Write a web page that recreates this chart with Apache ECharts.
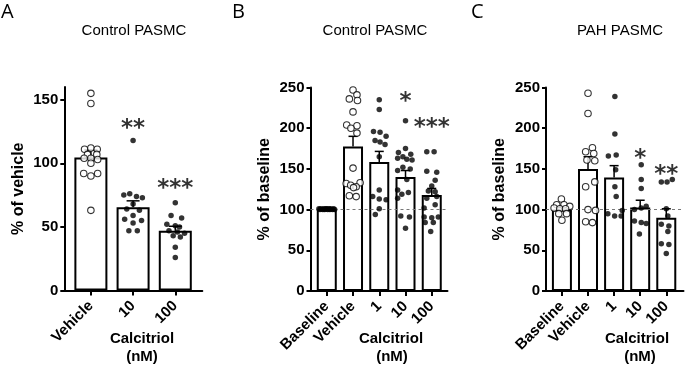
<!DOCTYPE html>
<html>
<head>
<meta charset="utf-8">
<script src="https://cdn.jsdelivr.net/npm/echarts@6.0.0/dist/echarts.min.js"></script>
<style>
  html, body { margin: 0; padding: 0; background: #fff; }
  #main { width: 685px; height: 367px; }
</style>
</head>
<body>
<div id="main"></div>
<script>
// ---- panel A: Control PASMC, % of vehicle ----
var aCats = ['Vehicle', '10', '100'];
var aMean = [104.5, 65.5, 47];
var aSem = [6, 5, 3.5];
// points are [value, jitter in category units]
var aVehicle = [[155, 0], [147, 0], [111, -0.15], [112, 0], [111, 0.15], [107, -0.08], [107, 0.14], [104, -0.16], [104, 0], [103, 0.16], [100, 0], [92, -0.17], [90, 0], [92, 0.16], [63, 0]];
var a10 = [[118, 0], [76, -0.08], [75, -0.22], [74, 0.08], [73, 0.22], [68, 0], [64, -0.15], [63, 0.15], [59, 0], [56, -0.2], [55, 0.2], [53, 0], [47, -0.1], [47, 0.1]];
var a100 = [[69, 0], [59, -0.1], [57, 0.15], [52, -0.2], [51, 0], [50, 0.1], [47, -0.15], [46, 0.05], [45, 0.22], [43, -0.05], [42, 0.12], [34, 0], [26, 0]];
var aStars = ['', '**', '***'];
var aStarY = [0, 131.7, 84.5];

// ---- panel B: Control PASMC, % of baseline ----
var bCats = ['Baseline', 'Vehicle', '1', '10', '100'];
var bMean = [100, 177.5, 158.5, 140, 118];
var bSem = [0, 12.5, 13, 8, 8];
var bBaseline = [[101, -0.3], [100, -0.26], [101, -0.22], [100, -0.15], [101, -0.12], [100, -0.08], [101, -0.04], [101, 0], [100, 0.04], [101, 0.08], [100, 0.12], [101, 0.15], [100, 0.22], [101, 0.26], [100, 0.3]];
var bVehicle = [[247, 0], [241, 0.15], [236, -0.14], [234, 0.17], [220, 0], [204, -0.24], [203, 0.15], [200, -0.08], [194, 0.15], [151, 0], [133, 0.27], [132, -0.26], [130, -0.09], [128, 0.12], [127, 0.02], [117, -0.14], [116, 0.12]];
var b1 = [[235, 0], [223, 0], [196, -0.22], [195, 0.03], [190, 0.26], [185, -0.16], [183, 0.03], [180, 0.22], [165, 0], [124, 0], [116, -0.25], [113, 0], [112, 0.26], [101, 0], [94, -0.15]];
var b10 = [[209, 0], [175, 0], [170, -0.27], [168, 0.2], [165, -0.1], [163, -0.3], [162, 0.05], [161, 0.25], [152, -0.1], [150, 0.18], [148, -0.3], [137, 0.05], [124, -0.3], [121, 0.11], [119, -0.14], [114, -0.3], [92, -0.18], [91, 0.15], [77, 0]];
var b100 = [[171, -0.19], [171, 0.09], [147, -0.19], [146, 0.19], [136, 0.13], [129, 0], [123, -0.13], [122, 0.13], [116, 0.19], [114, -0.19], [106, 0.13], [102, -0.29], [91, -0.29], [90, 0], [91, 0.25], [84, -0.25], [84, 0.06], [73, -0.04]];
var bStars = ['', '', '', '*', '***'];
var bStarY = [0, 0, 0, 239.6, 207];

// ---- panel C: PAH PASMC, % of baseline ----
var cCats = ['Baseline', 'Vehicle', '1', '10', '100'];
var cMean = [100, 150, 139.5, 102.5, 90];
var cSem = [2.5, 15, 14.5, 9, 11];
var cBaseline = [[113, -0.02], [106, -0.2], [106, 0.08], [104, 0.3], [102, -0.3], [101, -0.08], [101, 0.14], [95, -0.12], [95, 0.18], [87, 0]];
var cVehicle = [[243, 0], [218, 0], [176, 0.17], [171, -0.09], [169, 0.22], [161, -0.04], [160, 0.26], [134, 0.26], [128, -0.09], [100, 0], [99, 0.29], [85, -0.09], [84, 0.17]];
var c1 = [[239, 0.03], [193, 0.03], [166, -0.22], [167, 0.08], [149, 0.06], [128, 0.03], [116, 0.08], [99, 0.31], [95, -0.24], [92, 0.02], [92, 0.27]];
var c10 = [[155, 0.04], [137, 0.04], [126, 0.04], [104, 0.23], [102, 0.04], [100, -0.22], [86, -0.22], [84, 0.04], [83, 0.23], [70, -0.03]];
var c100 = [[137, 0.23], [134, -0.19], [134, 0.03], [101, 0], [92, 0.06], [82, -0.19], [80, 0.1], [73, 0.06], [58, -0.19], [57, 0.1], [46, 0]];
var cStars = ['', '', '', '*', '**'];
var cStarY = [0, 0, 0, 168.9, 150.4];

var FONT = '"Liberation Sans", Arial, sans-serif';

var panels = [
    { cats: aCats, mean: aMean, sem: aSem, groups: [aVehicle, a10, a100], hollow: [true, false, false],
      stars: aStars, starY: aStarY, ymax: 160, yticks: [0, 50, 100, 150], yname: '% of vehicle',
      grid: { left: 64.3, top: 87, width: 138, height: 203.5 }, xmin: -0.63, xmax: 2.64,
      barW: 33, capW: 6.5, refLine: false },
    { cats: bCats, mean: bMean, sem: bSem, groups: [bBaseline, bVehicle, b1, b10, b100], hollow: [false, true, false, false, false],
      stars: bStars, starY: bStarY, ymax: 250, yticks: [0, 50, 100, 150, 200, 250], yname: '% of baseline',
      grid: { left: 310.5, top: 87.5, width: 137, height: 203.5 }, xmin: -0.62, xmax: 4.6,
      barW: 20, capW: 4.5, refLine: true },
    { cats: cCats, mean: cMean, sem: cSem, groups: [cBaseline, cVehicle, c1, c10, c100], hollow: [true, true, false, false, false],
      stars: cStars, starY: cStarY, ymax: 250, yticks: [0, 50, 100, 150, 200, 250], yname: '% of baseline',
      grid: { left: 546, top: 87.5, width: 137.5, height: 203.5 }, xmin: -0.61, xmax: 4.66,
      barW: 20, capW: 4.5, refLine: true }
];

var grids = [], xAxes = [], yAxes = [], series = [];

panels.forEach(function (p, gi) {
    grids.push(p.grid);

    var idx = p.cats.map(function (c, i) { return i; });
    xAxes.push({
        gridIndex: gi,
        type: 'value',
        min: p.xmin,
        max: p.xmax,
        splitLine: { show: false },
        axisLine: { onZero: false, lineStyle: { color: '#000', width: 2 } },
        axisTick: { customValues: idx, length: 5, lineStyle: { color: '#000', width: 2 } },
        axisLabel: {
            customValues: idx,
            rotate: 45,
            margin: 13,
            color: '#000',
            fontSize: 15,
            fontWeight: 'bold',
            fontFamily: FONT,
            formatter: function (v) { return p.cats[Math.round(v)]; }
        }
    });

    yAxes.push({
        gridIndex: gi,
        type: 'value',
        min: 0,
        max: p.ymax,
        interval: 50,
        name: p.yname,
        nameLocation: 'middle',
        nameGap: 38,
        nameTextStyle: { color: '#000', fontSize: 16, fontWeight: 'bold', fontFamily: FONT },
        splitLine: { show: false },
        axisLine: { show: true, onZero: false, lineStyle: { color: '#000', width: 2 } },
        axisTick: { show: true, customValues: p.yticks, length: 4, lineStyle: { color: '#000', width: 2 } },
        axisLabel: { customValues: p.yticks, margin: 6, color: '#000', fontSize: 15, fontWeight: 'bold', fontFamily: FONT }
    });

    var bar = {
        type: 'bar',
        xAxisIndex: gi,
        yAxisIndex: gi,
        barWidth: p.barW,
        data: p.mean.map(function (m, i) { return [i, m]; }),
        itemStyle: { color: '#fff', borderColor: '#000', borderWidth: 2 },
        silent: true,
        z: 2
    };
    if (p.refLine) {
        bar.markLine = {
            silent: true,
            symbol: 'none',
            label: { show: false },
            lineStyle: { type: [3, 3], color: '#777', width: 1 },
            data: [{ yAxis: 100 }],
            z: 3
        };
    }
    series.push(bar);

    var capW = p.capW;
    series.push({
        type: 'custom',
        xAxisIndex: gi,
        yAxisIndex: gi,
        z: 4,
        silent: true,
        data: p.mean.map(function (m, i) { return [i, m, p.sem[i]]; }),
        renderItem: function (params, api) {
            var x = api.value(0), m = api.value(1), s = api.value(2);
            if (!s) return null;
            var a = api.coord([x, m]), b = api.coord([x, m + s]);
            var st = { stroke: '#000', lineWidth: 1.5 };
            return {
                type: 'group',
                children: [
                    { type: 'line', shape: { x1: a[0], y1: a[1], x2: b[0], y2: b[1] }, style: st },
                    { type: 'line', shape: { x1: b[0] - capW, y1: b[1], x2: b[0] + capW, y2: b[1] }, style: st }
                ]
            };
        }
    });

    p.groups.forEach(function (pts, i) {
        var hollow = p.hollow[i];
        series.push({
            type: 'scatter',
            xAxisIndex: gi,
            yAxisIndex: gi,
            z: 5,
            silent: true,
            symbol: 'circle',
            symbolSize: hollow ? 6.5 : 5.5,
            itemStyle: hollow ? { color: '#fff', borderColor: '#000', borderWidth: 1.1 } : { color: '#000' },
            data: pts.map(function (d) { return [i + d[1], d[0]]; })
        });
    });

    series.push({
        type: 'scatter',
        xAxisIndex: gi,
        yAxisIndex: gi,
        z: 6,
        silent: true,
        symbolSize: 0,
        data: p.stars.map(function (s, i) { return [i, p.starY[i], s]; }).filter(function (d) { return d[2]; }),
        label: {
            show: true,
            position: 'inside',
            offset: [0, 6],
            color: '#000',
            fontSize: 23,
            fontWeight: 'bold',
            fontFamily: '"DejaVu Sans", sans-serif',
            formatter: function (prm) { return prm.data[2]; }
        }
    });
});

function txt(x, y, text, size, weight, family, align) {
    return {
        type: 'text', x: x, y: y, silent: true,
        style: { text: text, fill: '#000', fontSize: size, fontWeight: weight, fontFamily: family,
                 align: align || 'center', verticalAlign: 'middle' }
    };
}

var chart = echarts.init(document.getElementById('main'));
chart.setOption({
    animation: false,
    backgroundColor: '#fff',
    grid: grids,
    xAxis: xAxes,
    yAxis: yAxes,
    series: series,
    graphic: [
        txt(1, 12, 'A', 20, 'normal', '"Open Sans", sans-serif', 'left'),
        txt(232, 12, 'B', 20, 'normal', '"Open Sans", sans-serif', 'left'),
        txt(471, 12, 'C', 20, 'normal', '"Open Sans", sans-serif', 'left'),
        txt(134, 31, 'Control PASMC', 15, 'normal', FONT),
        txt(375, 31, 'Control PASMC', 15, 'normal', FONT),
        txt(620, 31, 'PAH PASMC', 15, 'normal', FONT),
        txt(142, 339, 'Calcitriol', 15, 'bold', FONT),
        txt(142, 357, '(nM)', 15, 'bold', FONT),
        txt(391, 339, 'Calcitriol', 15, 'bold', FONT),
        txt(392, 357, '(nM)', 15, 'bold', FONT),
        txt(637, 339, 'Calcitriol', 15, 'bold', FONT),
        txt(640, 357, '(nM)', 15, 'bold', FONT)
    ]
});
</script>
</body>
</html>
